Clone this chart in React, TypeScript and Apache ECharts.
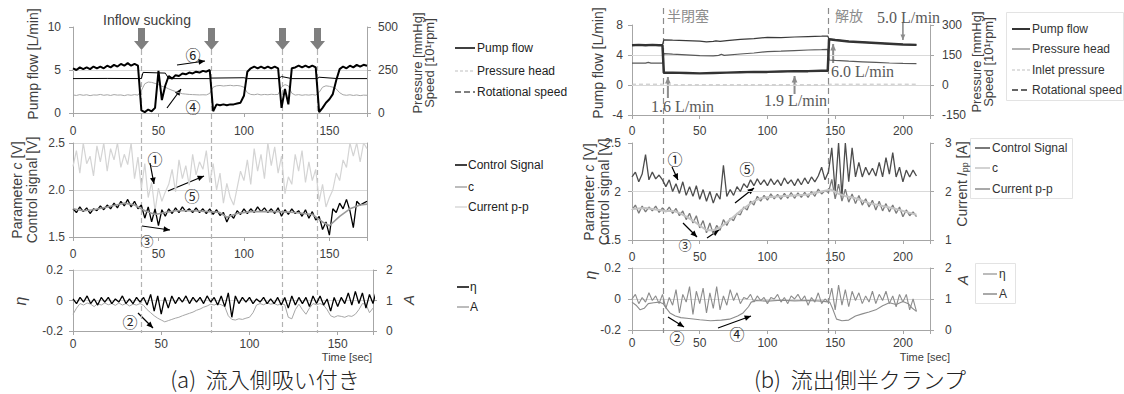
import React, { useEffect, useRef } from "react";
import * as echarts from "echarts";

// ---------------- (a) inflow sucking : time base (s) ----------------
const tA = [0,2,4,6,8,10,12,14,16,18,20,22,24,26,28,30,32,34,36,38,40,42,44,46,48,50,52,54,56,58,60,62,64,66,68,70,72,74,76,78,80,82,84,86,88,90,92,94,96,98,100,102,104,106,108,110,112,114,116,118,120,122,124,126,128,130,132,134,136,138,140,142,144,146,148,150,152,154,156,158,160,162,164,166,168,170,172];

const flowA = [5.2,5.0,5.3,5.1,5.3,5.1,5.4,5.2,5.4,5.2, 5.5,5.3,5.6,5.4,5.7,5.5,5.8,5.5,5.7,5.5, 0.3,0.1,0.4,0.2,0.6,4.9,1.5,3.2,4.3,4.0, 4.4,4.3,4.6,4.5,4.7,4.6,4.8,4.7,4.9,4.8, 5.0,0.2,1.0,0.9,1.0,0.9,1.0,1.0,1.1,1.2, 2.0,4.8,5.2,5.4,5.2,5.4,5.2,5.4,5.2,5.4, 5.2,0.6,2.8,1.0,5.2,5.3,5.5,5.3,5.5,5.3, 5.5,5.3,0.1,0.6,1.2,1.6,2.2,3.8,5.1,5.4, 5.2,5.5,5.3,5.6,5.4,5.6,5.5];
const pressA = [105,102,107,103,106,101,105,104,108,103, 106,102,107,104,105,101,106,103,107,104, 130,170,180,178,172,165,155,150,140,132, 125,118,112,110,108,107,106,105,106,105, 114,150,158,160,157,159,161,158,160,157, 150,118,108,106,110,105,108,106,109,107, 108,150,165,158,115,104,107,103,106,104, 107,104,120,150,158,155,150,140,118,106, 103,106,102,105,101,104,103];
const speedA_t = [0,20,40,41,54,56,80,81,100,102,120,122,128,143,144,155,172];
const speedA_v = [200,201,200,236,232,200,200,203,205,200,200,212,200,200,208,200,200];

const curA = [2.25,2.42,2.18,2.5,2.28,2.36,2.15,2.47,2.3,2.5, 2.2,2.44,2.32,2.5,2.24,2.38,2.27,2.5,2.12,2.35, 2.02,2.28,1.92,2.08,1.78,2.02,1.88,1.98,2.06,2.22, 1.98,2.32,2.12,2.26,2.05,2.38,2.16,2.3,2.22,2.42, 2.08,2.28,2.0,2.18,1.86,2.07,1.92,1.84,2.02,2.2, 2.1,2.32,2.06,2.44,2.2,2.38,2.12,2.5,2.26,2.46, 2.18,2.36,1.96,2.14,2.06,2.38,2.2,2.42,2.08,2.3, 2.1,2.22,1.88,2.06,1.82,1.92,2.0,2.18,2.1,2.32, 2.24,2.5,2.36,2.5,2.3,2.5,2.44];
const ctrlA = [1.80,1.76,1.82,1.77,1.81,1.75,1.80,1.78,1.83,1.79, 1.84,1.80,1.86,1.81,1.88,1.83,1.90,1.82,1.88,1.80, 1.84,1.70,1.82,1.66,1.80,1.62,1.79,1.72,1.80,1.75, 1.81,1.76,1.82,1.77,1.80,1.76,1.81,1.76,1.80,1.75, 1.80,1.74,1.79,1.73,1.76,1.66,1.74,1.70,1.78,1.74, 1.80,1.75,1.80,1.76,1.82,1.77,1.81,1.76,1.80,1.75, 1.81,1.72,1.79,1.74,1.80,1.75,1.78,1.72,1.79,1.70, 1.77,1.68,1.72,1.58,1.66,1.52,1.80,1.76,1.86,1.80, 1.90,1.78,1.60,1.88,1.84,1.86,1.88];
const cA_t = [0,6,12,20,30,36,42,48,54,60,70,80,86,90,96,104,120,130,140,146,150,156,162,168,172];
const cA_v = [1.80,1.78,1.79,1.82,1.86,1.84,1.78,1.74,1.76,1.78,1.78,1.77,1.76,1.71,1.75,1.77,1.77,1.76,1.74,1.66,1.62,1.72,1.80,1.84,1.85];

const etaA = [0.01,-0.02,0.02,-0.01,0.03,-0.02,0.01,-0.03,0.02,-0.01, 0.02,-0.02,0.01,-0.01,0.03,-0.02,0.01,-0.02,0.02,-0.01, 0.02,-0.03,0.04,-0.07,0.03,-0.09,0.02,-0.05,0.03,-0.02, 0.02,-0.01,0.03,-0.02,0.02,-0.01,0.02,-0.02,0.03,-0.01, 0.02,-0.03,0.03,-0.04,0.05,-0.11,0.03,-0.02,0.02,-0.01, 0.02,-0.02,0.01,-0.01,0.02,-0.02,0.01,-0.02,0.02,-0.03, 0.02,-0.05,0.03,-0.03,0.02,-0.02,0.02,-0.04,0.03,-0.02, 0.03,-0.03,0.01,-0.07,0.02,-0.04,0.02,-0.02,0.05,-0.03, 0.06,-0.02,0.05,-0.05,0.04,-0.02,0.07];
const ampA = [0.55,0.75,0.9,0.85,0.92,0.88,0.8,0.9,0.85,0.92, 0.86,0.9,0.84,0.92,0.85,0.9,0.82,0.88,0.85,0.9, 0.84,0.7,0.6,0.5,0.42,0.36,0.3,0.34,0.38,0.42, 0.45,0.5,0.54,0.58,0.62,0.68,0.72,0.78,0.82,0.88, 0.85,0.9,0.86,0.8,0.5,0.38,0.36,0.4,0.38,0.42, 0.45,0.6,0.85,0.9,0.86,0.92,0.88,0.9,0.85,0.9, 0.86,0.45,0.4,0.7,0.88,0.7,0.55,0.75,0.9,0.86, 0.9,0.85,0.7,0.5,0.45,0.5,0.48,0.45,0.5,0.48, 0.55,0.7,0.9,0.88,0.6,0.75,0.9];
const eventsA = [40, 81, 122, 143];

// ---------------- (b) outflow half clamp ----------------
const tB = [0,2.5,5,7.5,10,12.5,15,17.5,20,22.5,25,27.5,30,32.5,35,37.5,40,42.5,45,47.5,50,52.5,55,57.5,60,62.5,65,67.5,70,72.5,75,77.5,80,82.5,85,87.5,90,92.5,95,97.5,100,102.5,105,107.5,110,112.5,115,117.5,120,122.5,125,127.5,130,132.5,135,137.5,140,142.5,145,147.5,150,152.5,155,157.5,160,162.5,165,167.5,170,172.5,175,177.5,180,182.5,185,187.5,190,192.5,195,197.5,200,202.5,205,207.5,210];

const flowB_t = [0,5,10,15,20,22.5,23.5,30,40,50,60,70,80,90,100,110,120,130,140,144.5,145.5,150,160,170,180,190,200,210];
const flowB_v = [5.3,5.35,5.3,5.35,5.3,5.3,1.65,1.65,1.6,1.55,1.6,1.65,1.7,1.75,1.75,1.8,1.85,1.85,1.9,1.9,6.1,6.0,5.8,5.7,5.6,5.5,5.4,5.35];
const speedB_t = [0,10,22.5,23.5,30,40,50,55,60,62,65,70,80,90,100,110,120,130,140,144.5,145.5,150,160,170,180,190,200,210];
const speedB_v = [199,201,200,226,224,222,219,216,218,221,218,222,228,232,238,237,240,242,244,245,229,226,218,214,210,206,203,201];
const pressB_t = [0,10,12,14,22.5,23.5,30,40,50,60,64,66,68,80,90,100,110,120,130,140,144.5,145.5,150,160,170,180,190,200,210];
const pressB_v = [109,109,113,109,109,157,154,151,147,146,148,154,148,155,160,167,169,172,175,177,178,125,123,119,116,113,110,108,107];
const inletB_t = [0,22.5,23.5,144.5,145.5,210];
const inletB_v = [4,4,1,1,4,4];

const ctrlB = [2.15,2.2,2.1,2.18,2.38,2.12,2.2,2.13,2.17,2.12, 2.05,2.12,2.0,2.08,1.98,2.1,1.96,2.05,1.95,2.06, 1.92,2.02,1.9,2.0,1.88,1.98,1.92,2.27,1.95,2.02, 1.96,2.05,2.0,2.08,2.04,2.12,2.06,2.13,2.07,2.12, 2.06,2.13,2.07,2.12,2.06,2.14,2.08,2.12,2.06,2.13, 2.07,2.14,2.08,2.15,2.1,2.16,2.25,2.12,2.2,2.45, 2.0,2.5,1.95,2.5,2.1,2.45,2.15,2.3,2.15,2.25, 2.17,2.24,2.16,2.3,2.15,2.35,2.18,2.4,2.15,2.25, 2.1,2.22,2.15,2.22,2.16];
const curB = [1.62,1.72,1.55,1.7,1.58,1.68,1.6,1.7,1.57,1.66, 1.58,1.68,1.55,1.65,1.5,1.6,1.42,1.55,1.35,1.5, 1.25,1.4,1.15,1.35,1.12,1.3,1.2,1.42,1.3,1.45, 1.4,1.55,1.52,1.68,1.62,1.8,1.72,1.9,1.8,1.92, 1.82,1.95,1.85,1.94,1.84,1.96,1.86,1.98,1.86,1.97, 1.88,1.98,1.88,2.0,1.9,2.05,1.95,2.02,1.98,2.25, 1.85,2.15,1.8,2.05,1.78,1.95,1.75,1.92,1.72,1.85, 1.68,1.82,1.62,1.8,1.6,1.75,1.58,1.72,1.55,1.68, 1.48,1.62,1.5,1.58,1.48];
const cB_t = [0,10,20,25,30,35,40,45,50,55,60,65,70,75,80,85,90,95,100,110,120,130,140,147,152,158,165,175,185,195,205,210];
const cB_v = [1.82,1.83,1.81,1.8,1.8,1.78,1.74,1.7,1.65,1.6,1.6,1.63,1.68,1.74,1.8,1.85,1.9,1.93,1.94,1.95,1.96,1.97,2.0,2.02,1.98,1.95,1.93,1.88,1.85,1.82,1.78,1.76];

const etaB = [0.0,0.03,-0.03,0.01,-0.02,0.04,-0.01,0.02,-0.03,0.03, -0.06,0.01,-0.04,0.06,-0.09,0.03,-0.02,0.08,-0.1,0.05, -0.03,0.07,-0.09,0.04,-0.06,0.08,-0.07,0.02,-0.04,0.06, -0.01,0.04,-0.03,0.01,0.0,0.03,-0.02,0.02,-0.01,0.01, -0.03,0.01,0.0,0.03,-0.02,0.01,-0.03,0.02,0.0,0.03, -0.01,0.02,-0.04,0.01,-0.02,0.04,-0.03,0.0,-0.02,0.07, -0.07,0.09,-0.04,0.06,-0.05,0.05,-0.01,0.04,-0.03,0.02, -0.02,0.05,-0.03,0.03,-0.01,0.05,-0.03,0.02,-0.05,0.03, -0.02,0.03,-0.07,0.0,-0.08];
const ampB_t = [0,3,6,9,12,16,20,23,25,28,32,36,42,50,58,66,72,78,82,86,88,92,100,110,120,130,140,146,148,151,155,160,165,170,175,180,185,190,195,200,204,207,210];
const ampB_v = [0.9,0.8,0.65,0.7,0.85,0.88,0.9,0.85,0.72,0.55,0.45,0.4,0.37,0.33,0.3,0.32,0.35,0.45,0.55,0.75,0.9,0.95,0.93,0.96,0.94,0.95,0.93,0.9,0.7,0.35,0.3,0.32,0.45,0.52,0.58,0.65,0.78,0.88,0.82,0.92,0.85,0.7,0.6];
const eventsB = [23, 145];

// ---------------- helpers ----------------
const FONT = "'Liberation Sans', Arial, sans-serif";
const CJK = "'Noto Sans CJK JP', sans-serif";
const SERIF = "'Liberation Serif', 'Times New Roman', serif";
const AXC = "#a6a6a6";
const TXT = "#404040";

const zip = (t: number[], v: number[]) => t.map((x, i) => [x, v[i]]);

const xAx = (gridIndex: number, max: number, margin: number) => ({
  type: "value", gridIndex, min: 0, max, interval: 50,
  axisLine: { show: true, onZero: false, lineStyle: { color: AXC } },
  axisTick: { show: true, length: 4, lineStyle: { color: AXC } },
  axisLabel: { fontFamily: FONT, fontSize: 12, color: TXT, margin, formatter: (v: number) => (v % 50 === 0 ? String(v) : "") },
  splitLine: { show: false },
});

const yAx = (gridIndex: number, position: string, min: number, max: number, interval: number, o: any = {}) => ({
  type: "value", gridIndex, position, min, max, interval,
  axisLine: { show: true, onZero: false, lineStyle: { color: AXC } },
  axisTick: { show: o.tick !== false, length: 4, lineStyle: { color: AXC } },
  axisLabel: { show: o.label !== false, fontFamily: FONT, fontSize: 12, color: TXT, margin: o.margin ?? 10, formatter: o.fmt },
  splitLine: { show: !!o.split, lineStyle: { color: "#d9d9d9" } },
});

const ln = (name: string, data: any[], xi: number, yi: number, color: string, width: number, extra: any = {}) => ({
  name, type: "line", data, xAxisIndex: xi, yAxisIndex: yi, showSymbol: false, symbol: "none",
  silent: true, lineStyle: { color, width, ...(extra.lineStyle || {}) }, itemStyle: { color },
  ...(extra.markLine ? { markLine: extra.markLine } : {}),
});

const gridMark = (vals: number[]) => ({
  silent: true, symbol: "none", z: 1, label: { show: false }, animation: false,
  lineStyle: { color: "#d9d9d9", type: "solid", width: 1 },
  emphasis: { disabled: true },
  data: vals.map((v) => ({ yAxis: v })),
});

const option: any = {
  animation: false,
  backgroundColor: "#ffffff",
  grid: [
    { left: 73, top: 27, width: 294, height: 86 },
    { left: 73, top: 143, width: 294, height: 94 },
    { left: 73, top: 270, width: 300, height: 61 },
    { left: 632, top: 25, width: 298, height: 90 },
    { left: 632, top: 143, width: 298, height: 97 },
    { left: 632, top: 268, width: 298, height: 62 },
  ],
  xAxis: [xAx(0, 172, 12), xAx(1, 172, 11), xAx(2, 170, 7), xAx(3, 220, 10), xAx(4, 220, 11), xAx(5, 220, 7)],
  yAxis: [
    yAx(0, "left", 0, 10, 5, { margin: 12 }),
    yAx(0, "right", 0, 500, 250, { margin: 11 }),
    yAx(1, "left", 1.5, 2.5, 0.5, { split: true, margin: 8, fmt: (v: number) => v.toFixed(1) }),
    yAx(1, "right", 0, 2, 1, { label: false, tick: false }),
    yAx(2, "left", -0.2, 0.2, 0.2, { split: true, margin: 10 }),
    yAx(2, "right", 0, 2, 1, { margin: 13 }),
    yAx(3, "left", -4, 8, 4, { margin: 9 }),
    yAx(3, "right", -150, 300, 150, { margin: 12 }),
    yAx(4, "left", 1.5, 2.5, 0.5, { margin: 11 }),
    yAx(4, "right", 1, 3, 1, { margin: 15 }),
    yAx(5, "left", -0.2, 0.2, 0.2, { split: true, margin: 11 }),
    yAx(5, "right", 0, 2, 1, { margin: 15 }),
  ],
  series: [
    // (a) top
    ln("Pressure head", zip(tA, pressA), 0, 1, "#a6a6a6", 1, { markLine: gridMark([250]) }),
    ln("Rotational speed", zip(speedA_t, speedA_v), 0, 1, "#000000", 1),
    ln("Pump flow", zip(tA, flowA), 0, 0, "#000000", 2),
    // (a) middle
    ln("Current p-p", zip(tA, curA), 1, 2, "#d4d4d4", 1.2),
    ln("Control Signal", zip(tA, ctrlA), 1, 2, "#000000", 1.3),
    ln("c", zip(cA_t, cA_v), 1, 2, "#9a9a9a", 1.6),
    // (a) bottom
    ln("A", zip(tA, ampA), 2, 5, "#a6a6a6", 1),
    ln("η", zip(tA, etaA), 2, 4, "#000000", 1.3),
    // (b) top
    ln("Inlet pressure", zip(inletB_t, inletB_v), 3, 7, "#bfbfbf", 1, { lineStyle: { type: [4, 3] }, markLine: gridMark([0, 150]) }),
    ln("Pressure head", zip(pressB_t, pressB_v), 3, 7, "#595959", 1.2),
    ln("Rotational speed", zip(speedB_t, speedB_v), 3, 7, "#3a3a3a", 1.2),
    ln("Pump flow", zip(flowB_t, flowB_v), 3, 6, "#333333", 2.5),
    // (b) middle
    ln("Control Signal", zip(tB, ctrlB), 4, 8, "#4d4d4d", 1.3, { markLine: gridMark([2]) }),
    ln("Current p-p", zip(tB, curB), 4, 9, "#7a7a7a", 1.3),
    ln("c", zip(cB_t, cB_v), 4, 8, "#c4c4c4", 2),
    // (b) bottom
    ln("A", zip(ampB_t, ampB_v), 5, 11, "#8c8c8c", 1.1),
    ln("η", zip(tB, etaB), 5, 10, "#8c8c8c", 1.1),
  ],
};

function arrow(x1: number, y1: number, x2: number, y2: number, color = "#000", lw = 1.2, head = 7) {
  const a = Math.atan2(y2 - y1, x2 - x1);
  const h1 = [x2 - head * Math.cos(a - 0.42), y2 - head * Math.sin(a - 0.42)];
  const h2 = [x2 - head * Math.cos(a + 0.42), y2 - head * Math.sin(a + 0.42)];
  return [
    { type: "line", silent: true, shape: { x1, y1, x2, y2 }, style: { stroke: color, lineWidth: lw } },
    { type: "polygon", silent: true, shape: { points: [[x2, y2], h1, h2] }, style: { fill: color } },
  ];
}

const text = (x: number, y: number, t: string, size: number, color: string, extra: any = {}) => ({
  type: "text", x, y, silent: true, z: 50,
  style: { text: t, fontSize: size, fontFamily: FONT, fill: color, align: "left", verticalAlign: "middle", ...extra },
});

const vtext = (x: number, y: number, t: string, size: number, extra: any = {}) => ({
  type: "text", x, y, rotation: Math.PI / 2, silent: true, z: 50,
  style: { text: t, fontSize: size, fontFamily: FONT, fill: TXT, align: "center", verticalAlign: "middle", ...extra },
});

const legLine = (x1: number, x2: number, y: number, color: string, lw: number, dash?: number[]) => ({
  type: "line", silent: true, z: 50, shape: { x1, y1: y, x2, y2: y },
  style: { stroke: color, lineWidth: lw, lineDash: dash },
});

function buildGraphics(chart: any) {
  const g: any[] = [];
  const xp = (ax: number, t: number) => chart.convertToPixel({ xAxisIndex: ax }, t) as number;

  // event dashed lines and gray arrows
  eventsA.forEach((t) => {
    const x = Math.round(xp(0, t)) + 0.5;
    g.push({ type: "line", silent: true, z: 3, shape: { x1: x, y1: 50, x2: x, y2: 333 }, style: { stroke: "#b3b3b3", lineWidth: 1.2, lineDash: [5, 3] } });
    g.push({ type: "polygon", silent: true, z: 40, shape: { points: [[x - 3.5, 28], [x + 3.5, 28], [x + 3.5, 41], [x + 7.5, 41], [x, 50], [x - 7.5, 41], [x - 3.5, 41]] }, style: { fill: "#7f7f7f" } });
  });
  eventsB.forEach((t) => {
    const x = Math.round(xp(3, t)) + 0.5;
    g.push({ type: "line", silent: true, z: 3, shape: { x1: x, y1: 8, x2: x, y2: 333 }, style: { stroke: "#8c8c8c", lineWidth: 1.2, lineDash: [6, 4] } });
  });

  // (a) texts
  g.push(text(103, 20, "Inflow sucking", 14, TXT));
  // (b) annotation texts and gray arrows
  g.push(text(667, 15, "半閉塞", 14, "#8c8c8c", { fontFamily: CJK }));
  g.push(text(835, 15, "解放", 14, "#8c8c8c", { fontFamily: CJK }));
  g.push(text(877, 17, "5.0 L/min", 16, "#595959", { fontFamily: SERIF }));
  g.push(text(831, 71, "6.0 L/min", 16, "#595959", { fontFamily: SERIF }));
  g.push(text(651, 106, "1.6 L/min", 16, "#595959", { fontFamily: SERIF }));
  g.push(text(764, 100, "1.9 L/min", 16, "#595959", { fontFamily: SERIF }));
  g.push(...arrow(xp(3, 26.5), 98, xp(3, 26.5), 77, "#8c8c8c", 2, 7));
  g.push(...arrow(xp(3, 120), 94, xp(3, 120), 76, "#8c8c8c", 2, 7));
  g.push(...arrow(xp(3, 148.5), 63, xp(3, 148.5), 44, "#8c8c8c", 2, 7));
  g.push(...arrow(xp(3, 200), 22, xp(3, 200), 40, "#8c8c8c", 1.6, 6));

  // circled numbers + black arrows
  const circ = (x: number, y: number, s: string, size = 15) => text(x, y, s, size, "#222", { fontFamily: CJK, align: "center" });
  g.push(circ(193, 54, "⑥"), ...arrow(177, 65, 205, 61));
  g.push(circ(193, 106, "④"), ...arrow(167, 108, 181, 89));
  g.push(circ(155, 158, "①"), ...arrow(150, 163, 154, 184));
  g.push(circ(192, 195, "⑤"), ...arrow(168, 191, 204, 176));
  g.push(circ(147, 240, "③", 13), ...arrow(142, 226, 170, 230));
  g.push(circ(130, 321, "②"), ...arrow(138, 313, 153, 328));
  g.push(circ(675, 158, "①"), ...arrow(672, 167, 678, 180));
  g.push(circ(747, 168, "⑤"), ...arrow(735, 203, 754, 188));
  g.push(circ(685, 244, "③", 13), ...arrow(683, 223, 697, 237), ...arrow(707, 238, 719, 230));
  g.push(circ(677, 337, "②"), ...arrow(668, 317, 684, 327));
  g.push(circ(737, 333, "④"), ...arrow(718, 328, 751, 316));

  // axis names
  const rich = { i: { fontStyle: "italic", fontSize: 14, fontFamily: FONT, fill: TXT }, sub: { fontSize: 9, fontFamily: FONT, fill: TXT, verticalAlign: "bottom", padding: [6, 0, 0, 0] } };
  g.push(vtext(33, 64, "Pump flow [L/min]", 14));
  g.push(vtext(423, 63, "Pressure [mmHg]\nSpeed [10¹rpm]", 13, { lineHeight: 12 }));
  g.push(vtext(24, 190, "Parameter {i|c} [V]\nControl signal [V]", 14, { lineHeight: 15, rich }));
  g.push(vtext(20, 301, "η", 16, { fontStyle: "italic" }));
  g.push(vtext(408, 300, "A", 15, { fontStyle: "italic" }));
  g.push(vtext(598, 63, "Pump flow [L/min]", 14));
  g.push(vtext(982, 62, "Pressure [mmHg]\nSpeed [10¹rpm]", 13, { lineHeight: 12 }));
  g.push(vtext(596, 192, "Parameter {i|c} [V]\nControl signal [V]", 14, { lineHeight: 15, rich }));
  g.push(vtext(962, 184, "Current {i|I}{sub|pp} [A]", 14, { rich }));
  g.push(vtext(590, 275, "η", 16, { fontStyle: "italic" }));
  g.push(vtext(962, 280, "A", 15, { fontStyle: "italic" }));
  g.push(text(347, 357, "Time [sec]", 11, TXT, { align: "center" }));
  g.push(text(925, 357, "Time [sec]", 11, TXT, { align: "center" }));

  // legends (a)
  g.push(legLine(455, 475, 48, "#000", 1.5), text(477, 48, "Pump flow", 12, "#222"));
  g.push(legLine(455, 475, 71, "#bfbfbf", 1.2, [3, 2]), text(477, 71, "Pressure head", 12, "#222"));
  g.push(legLine(455, 475, 92, "#000", 1.2, [6, 3]), text(477, 92, "Rotational speed", 12, "#222"));
  g.push(legLine(455, 467, 165, "#000", 1.5), text(468, 165, "Control Signal", 12, "#222"));
  g.push(legLine(455, 467, 187, "#a6a6a6", 1.5), text(468, 187, "c", 12, "#222"));
  g.push(legLine(455, 467, 207, "#d9d9d9", 1.5), text(468, 207, "Current p-p", 12, "#222"));
  g.push(legLine(457, 469, 287, "#000", 1.5), text(470, 287, "η", 12, "#222"));
  g.push(legLine(457, 469, 307, "#a6a6a6", 1.5), text(470, 307, "A", 12, "#222"));

  // legends (b)
  g.push({ type: "rect", silent: true, z: 45, shape: { x: 1006.5, y: 12.5, width: 117, height: 88 }, style: { fill: "#fff", stroke: "#e3e3e3", lineWidth: 1 } });
  g.push(legLine(1012, 1030, 29, "#333", 2), text(1032, 29, "Pump flow", 12, "#333"));
  g.push(legLine(1012, 1030, 49, "#7f7f7f", 1.2), text(1032, 49, "Pressure head", 12, "#333"));
  g.push(legLine(1012, 1030, 70, "#bfbfbf", 1.2, [3, 2]), text(1032, 70, "Inlet pressure", 12, "#333"));
  g.push(legLine(1012, 1030, 90, "#333", 1.4, [6, 3]), text(1032, 90, "Rotational speed", 12, "#333"));
  g.push({ type: "rect", silent: true, z: 45, shape: { x: 970.5, y: 138.5, width: 102, height: 60 }, style: { fill: "#fff", stroke: "#e3e3e3", lineWidth: 1 } });
  g.push(legLine(975, 990, 148, "#4d4d4d", 1.5), text(992, 148, "Control Signal", 12, "#333"));
  g.push(legLine(975, 990, 168, "#c4c4c4", 1.5), text(992, 168, "c", 12, "#333"));
  g.push(legLine(975, 990, 189, "#8c8c8c", 1.5), text(992, 189, "Current p-p", 12, "#333"));
  g.push({ type: "rect", silent: true, z: 45, shape: { x: 975.5, y: 263.5, width: 40, height: 40 }, style: { fill: "#fff", stroke: "#e3e3e3", lineWidth: 1 } });
  g.push(legLine(983, 997, 274, "#a6a6a6", 1.5), text(999, 274, "η", 12, "#333"));
  g.push(legLine(983, 997, 294, "#8c8c8c", 1.5), text(999, 294, "A", 12, "#333"));

  // captions
  g.push(text(265, 378, "(a)  流入側吸い付き", 22, "#222", { fontFamily: CJK, align: "center", fontWeight: 300 }));
  g.push(text(860, 378, "(b)  流出側半クランプ", 22, "#222", { fontFamily: CJK, align: "center", fontWeight: 300 }));

  return g;
}

export default function App() {
  const ref = useRef<HTMLDivElement>(null);
  useEffect(() => {
    if (!ref.current) return;
    const chart = echarts.init(ref.current, null, { renderer: "svg" });
    chart.setOption(option);
    chart.setOption({ graphic: buildGraphics(chart) });
    return () => chart.dispose();
  }, []);
  return <div ref={ref} style={{ position: "absolute", left: 0, top: 0, width: 1124, height: 394, background: "#fff" }} />;
}
